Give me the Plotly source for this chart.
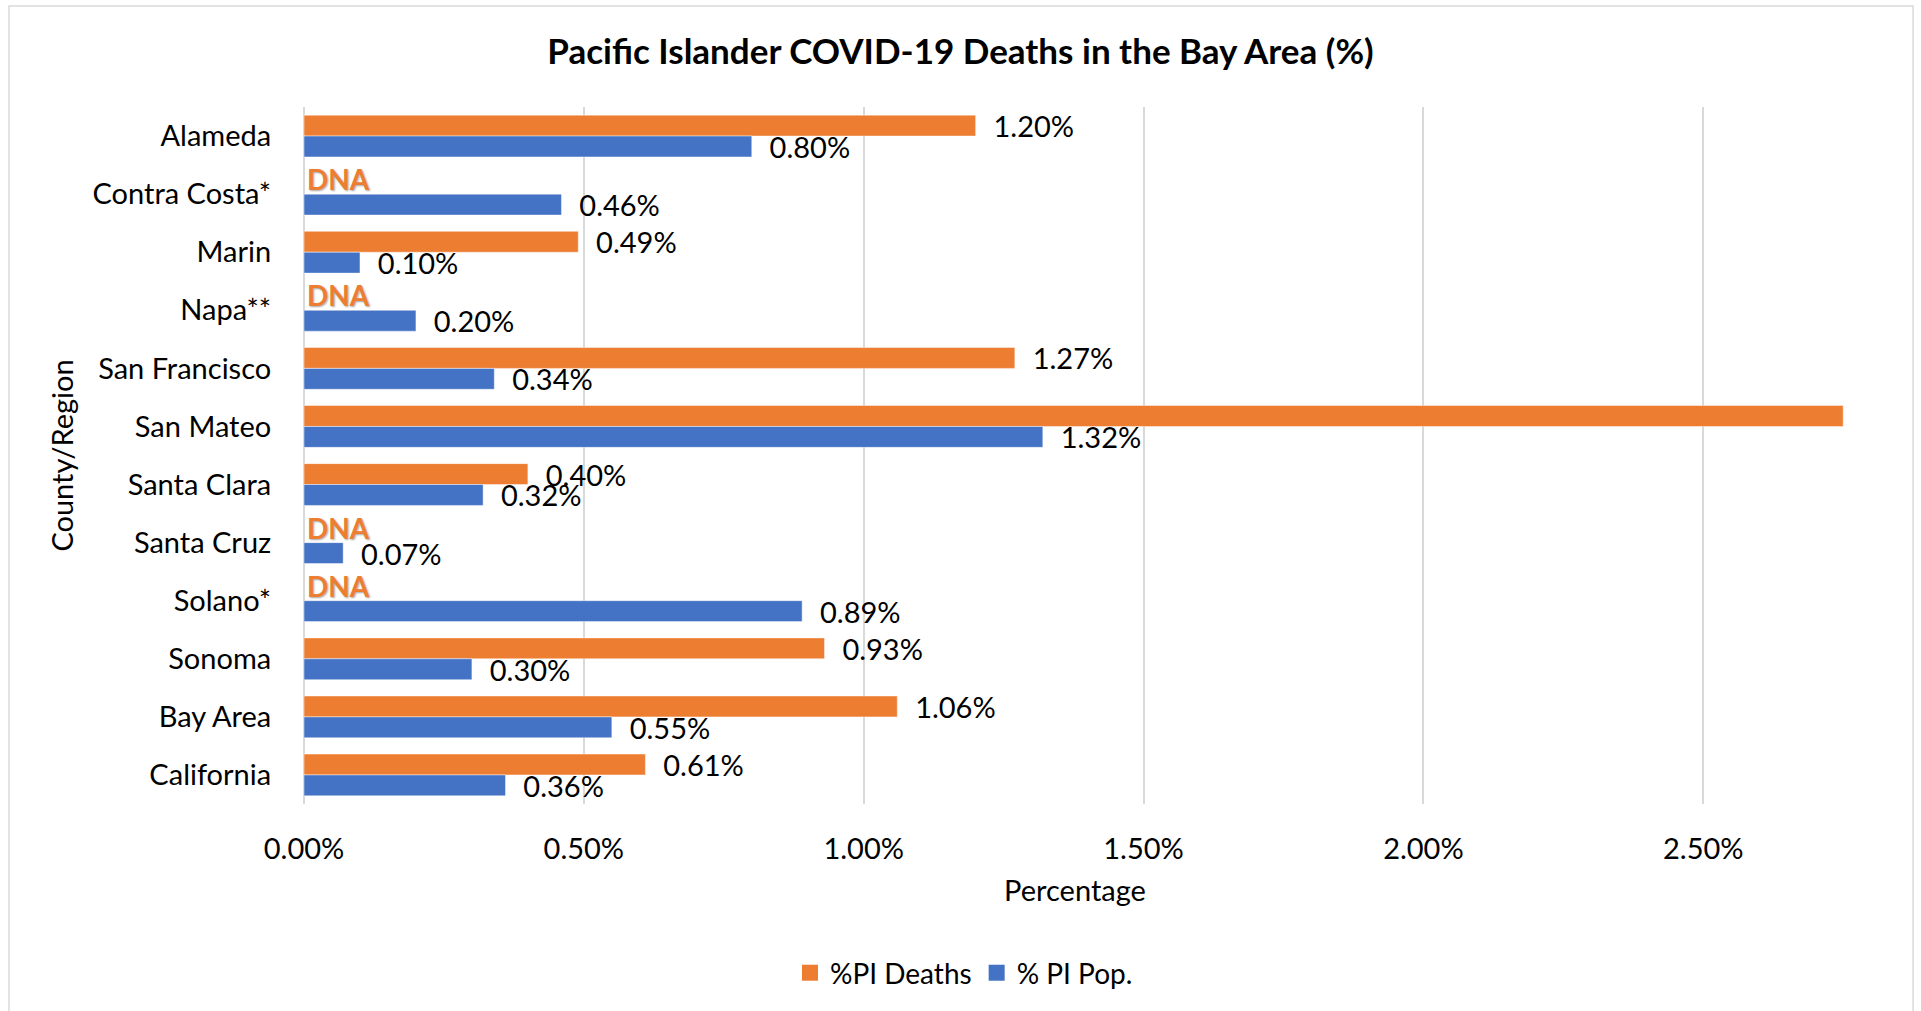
import plotly.graph_objects as go

categories = ["Alameda", "Contra Costa*", "Marin", "Napa**", "San Francisco", "San Mateo",
              "Santa Clara", "Santa Cruz", "Solano*", "Sonoma", "Bay Area", "California"]
# values as fractions (None = data not available, "DNA")
pi_deaths = [0.0120, None, 0.0049, None, 0.0127, 0.0275, 0.0040, None, None, 0.0093, 0.0106, 0.0061]
pi_pop = [0.0080, 0.0046, 0.0010, 0.0020, 0.0034, 0.0132, 0.0032, 0.0007, 0.0089, 0.0030, 0.0055, 0.0036]
hidden_labels = ["San Mateo"]  # death label not shown (bar runs past the axis)
x_ticks = [0, 0.005, 0.010, 0.015, 0.020, 0.025]
series_names = ["%PI Deaths", "% PI Pop."]

ORANGE = "#ED7D31"
BLUE = "#4472C4"
FONT = "Lato, 'Open Sans', sans-serif"
NB = "\u00a0\u00a0"

death_text = ["" if (v is None or c in hidden_labels) else NB + f"{v:.2%}" for c, v in zip(categories, pi_deaths)]
pop_text = [NB + f"{v:.2%}" for v in pi_pop]

fig = go.Figure()
for name, vals, txt, col in [(series_names[0], pi_deaths, death_text, ORANGE),
                             (series_names[1], pi_pop, pop_text, BLUE)]:
    fig.add_trace(go.Bar(
        name=name, y=categories, x=vals, orientation="h", showlegend=False,
        marker=dict(color=col, line=dict(color="rgba(255,255,255,0.45)", width=1)),
        text=txt, textposition="outside", constraintext="none", cliponaxis=True,
        textfont=dict(family=FONT, size=29, color="#000000"), hoverinfo="x+y",
    ))
# legend entries with larger square swatches
for name, col in [(series_names[0], ORANGE), (series_names[1], BLUE)]:
    fig.add_trace(go.Scatter(
        name=name, x=[None], y=[None], mode="markers",
        marker=dict(symbol="square", size=17, color=col), showlegend=True, hoverinfo="skip",
    ))

# "DNA" markers for missing death data
for c, v in zip(categories, pi_deaths):
    if v is None:
        fig.add_annotation(x=0, y=c, xref="x", yref="y", text="<b>DNA</b>", showarrow=False,
                           xanchor="left", yanchor="middle", xshift=1, yshift=15,
                           font=dict(family=FONT, size=28, color=ORANGE,
                                     shadow="1px 1px 2px rgba(0,0,0,0.35)"))

# chart border
fig.add_shape(type="rect", xref="paper", yref="paper", x0=-0.1913, x1=1.0435, y0=-0.31, y1=1.145,
              line=dict(color="#D9D9D9", width=1.5), fillcolor="rgba(0,0,0,0)", layer="below")

fig.update_layout(
    width=1921, height=1011,
    margin=dict(l=304, r=75, t=107, b=207),
    paper_bgcolor="white", plot_bgcolor="white",
    barmode="group", bargap=0.28, bargroupgap=0,
    font=dict(family=FONT, size=29, color="#000000"),
    title=dict(text="<b>Pacific Islander COVID-19 Deaths in the Bay Area (%)</b>",
               x=0.5, xref="container", xanchor="center",
               y=1 - 52 / 1011, yref="container", yanchor="middle",
               font=dict(family=FONT, size=35, color="#000000")),
    showlegend=True,
    legend=dict(orientation="h", x=0.428, y=-0.2425, xanchor="center", yanchor="middle",
                font=dict(family=FONT, size=28, color="#000000"), traceorder="normal",
                itemwidth=30, tracegroupgap=0),
    xaxis=dict(range=[0, 0.02755], tickvals=x_ticks, tickformat=".2%",
               showgrid=True, gridcolor="#D9D9D9", gridwidth=1.5,
               zeroline=True, zerolinecolor="#D9D9D9", zerolinewidth=1.5, showline=False,
               ticks="outside", ticklen=19, tickcolor="rgba(0,0,0,0)",
               tickfont=dict(family=FONT, size=29, color="#000000"),
               title=dict(text="Percentage", standoff=16, font=dict(family=FONT, size=29, color="#000000"))),
    yaxis=dict(autorange="reversed", showgrid=False, showline=False, zeroline=False,
               ticks="outside", ticklen=26, tickcolor="rgba(0,0,0,0)",
               tickfont=dict(family=FONT, size=29, color="#000000"),
               title=dict(text="County/Region", standoff=10, font=dict(family=FONT, size=29, color="#000000"))),
)

fig.write_html("out.html", config={"displayModeBar": False},
               post_script="document.body.style.margin='0';document.body.style.overflow='hidden';")
